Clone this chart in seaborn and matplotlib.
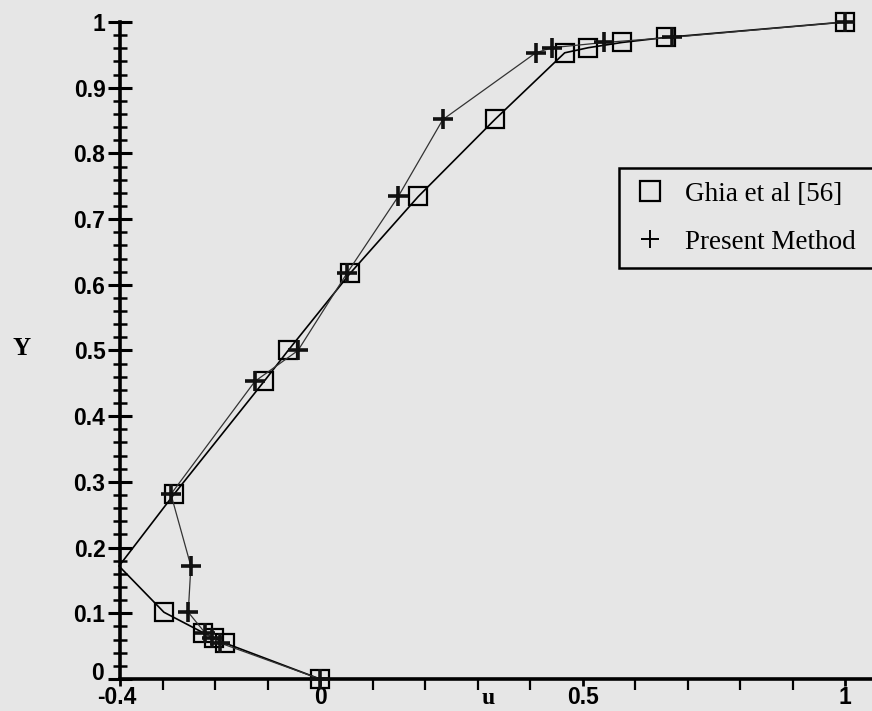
import matplotlib
matplotlib.use("Agg")
import matplotlib.pyplot as plt
from matplotlib.lines import Line2D
from matplotlib.ticker import MultipleLocator
from matplotlib.transforms import ScaledTranslation
import seaborn as sns

# ---- data ----
y_positions = [1.0, 0.9766, 0.9688, 0.9609, 0.9531, 0.8516, 0.7344, 0.6172, 0.5,
               0.4531, 0.2813, 0.1719, 0.1016, 0.0703, 0.0625, 0.0547, 0.0]
ghia_u = [1.0, 0.65928, 0.57492, 0.51117, 0.46604, 0.33304, 0.18719, 0.05702, -0.06080,
          -0.10648, -0.27805, -0.38289, -0.29730, -0.22220, -0.20196, -0.18109, 0.0]
present_u = [1.0, 0.670, 0.541, 0.442, 0.411, 0.234, 0.149, 0.051, -0.042,
             -0.124, -0.284, -0.246, -0.251, -0.219, -0.205, -0.190, 0.0]
series_labels = ["Ghia et al [56]", "Present Method"]
x_tick_labels = ["-0.4", "0", "0.5", "1"]
y_tick_labels = ["0", "0.1", "0.2", "0.3", "0.4", "0.5", "0.6", "0.7", "0.8", "0.9", "1"]
x_label = "u"
y_label = "Y"

sns.set_theme(style="white")
bg = "#e6e6e6"
plt.rcParams["font.family"] = ["Liberation Sans", "DejaVu Sans"]

fig = plt.figure(figsize=(8.72, 7.11), dpi=100, facecolor=bg)
ax = fig.add_axes([120 / 872, 1 - 679 / 711, 752 / 872, 657 / 711])
ax.set_facecolor(bg)

x_min, x_max = -0.381, 1.0514
ax.set_xlim(x_min, x_max)
ax.set_ylim(0, 1.0)

ghia_marks = [i for i in range(len(ghia_u)) if ghia_u[i] > x_min]
sns.lineplot(x=ghia_u, y=y_positions, sort=False, estimator=None, ax=ax,
             color="black", linewidth=1.2, marker="s", markersize=13,
             markerfacecolor="none", markeredgecolor="black", markeredgewidth=1.6,
             markevery=ghia_marks, clip_on=False, zorder=3)
sns.lineplot(x=present_u, y=y_positions, sort=False, estimator=None, ax=ax,
             color="#333333", linewidth=0.9, marker="+", markersize=14,
             markeredgecolor="#111111", markeredgewidth=2.6, clip_on=False, zorder=4)

# axes styling
for side in ["top", "right"]:
    ax.spines[side].set_visible(False)
for side in ["left", "bottom"]:
    ax.spines[side].set_linewidth(2.6)
    ax.spines[side].set_color("black")

x_ticks = [x_min, 0, 0.5, 1]
ax.set_xticks(x_ticks, labels=x_tick_labels)
ax.xaxis.set_minor_locator(MultipleLocator(0.1))
y_ticks = [i / 10 for i in range(11)]
ax.set_yticks(y_ticks, labels=y_tick_labels)
ax.yaxis.set_minor_locator(MultipleLocator(0.02))

ax.tick_params(axis="y", which="major", direction="inout", length=17, width=2.2,
               color="black", pad=2, labelsize=16.5, left=True)
ax.tick_params(axis="y", which="minor", direction="inout", length=10, width=1.8,
               color="black", left=True)
ax.tick_params(axis="x", which="major", direction="out", length=5, width=2.0,
               color="black", pad=0, labelsize=16.5, bottom=True)
ax.tick_params(axis="x", which="minor", direction="out", length=8, width=1.6,
               color="black", bottom=True)
for lab in ax.get_xticklabels() + ax.get_yticklabels():
    lab.set_fontweight("bold")
    lab.set_color("black")

ax.set_xlabel(x_label, fontsize=17, family=["Liberation Serif"], color="black",
              fontweight="bold", va="center")
ax.xaxis.set_label_coords((488 - 120) / 752, (679 - 698) / 657)
ax.set_ylabel(y_label, fontsize=18, family=["Liberation Serif"], color="black",
              fontweight="bold", rotation=0, va="center", ha="center")
ax.yaxis.set_label_coords((22 - 120) / 752, (679 - 349) / 657)

handles = [
    Line2D([], [], linestyle="none", marker="s", markersize=14, markerfacecolor="none",
           markeredgecolor="black", markeredgewidth=1.6),
    Line2D([], [], linestyle="none", marker="+", markersize=13, markeredgecolor="black",
           markeredgewidth=1.4),
]
leg = ax.legend(handles, series_labels, loc="upper left", mode="expand",
                bbox_to_anchor=(619 / 872, 1 - 267 / 711, 290 / 872, 99 / 711),
                bbox_transform=fig.transFigure,
                borderaxespad=0, frameon=True, fancybox=False, framealpha=1,
                facecolor=bg, edgecolor="black", borderpad=0.5, handlelength=1.3,
                handletextpad=0.65, labelspacing=0.85,
                prop={"family": "Liberation Serif", "size": 19.5})
leg.get_frame().set_linewidth(1.8)
for t in leg.get_texts():
    t.set_color("black")

# small label nudges as in the reference: "-0.4" sits a bit left, "0" on y sits higher
xl0 = ax.get_xticklabels()[0]
xl0.set_transform(xl0.get_transform() + ScaledTranslation(-3 / 100, 0, fig.dpi_scale_trans))
yl0 = ax.get_yticklabels()[0]
yl0.set_transform(yl0.get_transform() + ScaledTranslation(-2 / 100, 8 / 100, fig.dpi_scale_trans))

fig.savefig("out.png", dpi=100, facecolor=bg)
